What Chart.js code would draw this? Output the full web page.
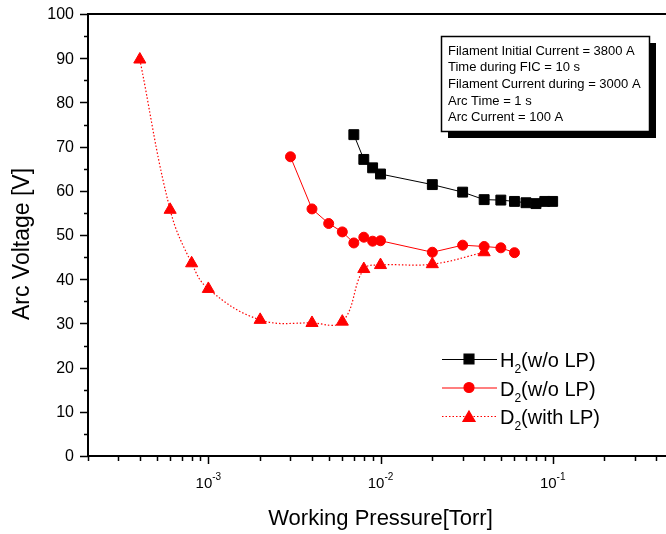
<!DOCTYPE html>
<html>
<head>
<meta charset="utf-8">
<script src="https://cdn.jsdelivr.net/npm/chart.js@4/dist/chart.umd.min.js"></script>
<style>
    html, body { margin: 0; padding: 0; background: #fff; overflow: hidden; }
    #wrap { width: 666px; height: 534px; overflow: hidden; }
</style>
</head>
<body>
<div id="wrap"><canvas id="arcChart" width="690" height="534"></canvas></div>
<script>
// H2 without LP
const h2Pressure = [0.007, 0.008, 0.009, 0.01, 0.02, 0.03, 0.04, 0.05, 0.06, 0.07, 0.08, 0.09, 0.1];
const h2Voltage = [72.7, 67.1, 65.2, 63.8, 61.4, 59.7, 58.0, 57.9, 57.6, 57.3, 57.1, 57.6, 57.6];

// D2 without LP
const d2Pressure = [0.003, 0.004, 0.005, 0.006, 0.007, 0.008, 0.009, 0.01, 0.02, 0.03, 0.04, 0.05, 0.06];
const d2Voltage = [67.7, 55.9, 52.6, 50.7, 48.2, 49.5, 48.6, 48.7, 46.1, 47.7, 47.4, 47.1, 46.0];

// D2 with LP
const d2LpPressure = [0.0004, 0.0006, 0.0008, 0.001, 0.002, 0.004, 0.006, 0.008, 0.01, 0.02, 0.04];
const d2LpVoltage = [89.7, 55.7, 43.6, 37.8, 30.8, 30.1, 30.4, 42.3, 43.2, 43.4, 46.1];

// Axis ticks
const yMajorTicks = [0, 10, 20, 30, 40, 50, 60, 70, 80, 90, 100];
const yMinorTicks = [5, 15, 25, 35, 45, 55, 65, 75, 85, 95];
const xMajorTicks = [1e-3, 1e-2, 1e-1];
const xMajorExp = ['-3', '-2', '-1'];
const xMinorTicks = [
    2e-4, 3e-4, 4e-4, 5e-4, 6e-4, 7e-4, 8e-4, 9e-4,
    2e-3, 3e-3, 4e-3, 5e-3, 6e-3, 7e-3, 8e-3, 9e-3,
    2e-2, 3e-2, 4e-2, 5e-2, 6e-2, 7e-2, 8e-2, 9e-2,
    2e-1, 3e-1, 4e-1, 5e-1
];

// Info box text
const infoLines = [
    'Filament Initial Current = 3800 A',
    'Time during FIC = 10 s',
    'Filament Current during = 3000 A',
    'Arc Time = 1 s',
    'Arc Current = 100 A'
];

// Legend entries
const legendItems = [
    { main: 'H', sub: '2', rest: '(w/o LP)', color: '#000000', style: 'rect', radius: 7, dash: [] },
    { main: 'D', sub: '2', rest: '(w/o LP)', color: '#ff0000', style: 'circle', radius: 5, dash: [] },
    { main: 'D', sub: '2', rest: '(with LP)', color: '#ff0000', style: 'triangle', radius: 7, dash: [1.5, 2] }
];

const FONT = '"Liberation Sans", Arial, Helvetica, sans-serif';

function toPoints(xs, ys) {
    return xs.map((x, i) => ({ x: x, y: ys[i] }));
}

// Draw frame, ticks, labels, titles, info box and legend
const decorPlugin = {
    id: 'decor',
    afterDraw(chart) {
        const ctx = chart.ctx;
        const area = chart.chartArea;
        const xs = chart.scales.x;
        const ys = chart.scales.y;

        ctx.save();
        ctx.strokeStyle = '#000';
        ctx.fillStyle = '#000';

        // top and right frame
        ctx.lineWidth = 2;
        ctx.beginPath();
        ctx.moveTo(area.left, area.top);
        ctx.lineTo(area.right, area.top);
        ctx.lineTo(area.right, area.bottom);
        ctx.stroke();

        // y ticks
        ctx.lineWidth = 1.5;
        ctx.beginPath();
        yMajorTicks.forEach(v => {
            const py = Math.round(ys.getPixelForValue(v)) + 0.5;
            ctx.moveTo(area.left - 8, py);
            ctx.lineTo(area.left, py);
        });
        yMinorTicks.forEach(v => {
            const py = Math.round(ys.getPixelForValue(v)) + 0.5;
            ctx.moveTo(area.left - 4, py);
            ctx.lineTo(area.left, py);
        });
        // x ticks
        xMajorTicks.forEach(v => {
            const px = Math.round(xs.getPixelForValue(v)) + 0.5;
            ctx.moveTo(px, area.bottom);
            ctx.lineTo(px, area.bottom + 8);
        });
        xMinorTicks.forEach(v => {
            const px = Math.round(xs.getPixelForValue(v)) + 0.5;
            ctx.moveTo(px, area.bottom);
            ctx.lineTo(px, area.bottom + 5);
        });
        ctx.stroke();

        // y tick labels
        ctx.font = '16px ' + FONT;
        ctx.textAlign = 'right';
        ctx.textBaseline = 'middle';
        yMajorTicks.forEach(v => {
            ctx.fillText(String(v), area.left - 14, ys.getPixelForValue(v) + 1);
        });

        // x tick labels with superscript exponent
        xMajorTicks.forEach((v, i) => {
            const px = xs.getPixelForValue(v);
            ctx.font = '15px ' + FONT;
            const baseW = ctx.measureText('10').width;
            ctx.font = '10px ' + FONT;
            const expW = ctx.measureText(xMajorExp[i]).width;
            const start = px - (baseW + expW) / 2;
            ctx.textAlign = 'left';
            ctx.textBaseline = 'alphabetic';
            ctx.font = '15px ' + FONT;
            ctx.fillText('10', start, area.bottom + 32);
            ctx.font = '10px ' + FONT;
            ctx.fillText(xMajorExp[i], start + baseW, area.bottom + 24);
        });

        // axis titles
        ctx.font = '22px ' + FONT;
        ctx.textAlign = 'center';
        ctx.textBaseline = 'alphabetic';
        ctx.fillText('Working Pressure[Torr]', xs.getPixelForValue(1e-2), 525);

        ctx.save();
        ctx.translate(29, 244);
        ctx.rotate(-Math.PI / 2);
        ctx.font = '23px ' + FONT;
        ctx.fillText('Arc Voltage [V]', 0, 0);
        ctx.restore();

        // info box with shadow
        const bx = 441, by = 36, bw = 208, bh = 95;
        ctx.fillStyle = '#000';
        ctx.fillRect(bx + 7, by + 7, bw, bh);
        ctx.fillStyle = '#fff';
        ctx.fillRect(bx, by, bw, bh);
        ctx.lineWidth = 1.5;
        ctx.strokeRect(bx + 0.5, by + 0.5, bw, bh);
        ctx.fillStyle = '#000';
        ctx.font = '13px ' + FONT;
        ctx.textAlign = 'left';
        ctx.textBaseline = 'middle';
        infoLines.forEach((line, i) => {
            ctx.fillText(line, bx + 7, by + 15 + i * 16.7);
        });

        // legend
        legendItems.forEach((item, i) => {
            const ly = 359 + i * 28.5;
            ctx.strokeStyle = item.color;
            ctx.fillStyle = item.color;
            ctx.lineWidth = 1.2;
            ctx.setLineDash(item.dash);
            ctx.beginPath();
            ctx.moveTo(442, ly + 0.5);
            ctx.lineTo(497, ly + 0.5);
            ctx.stroke();
            ctx.setLineDash([]);
            Chart.helpers.drawPoint(ctx, {
                pointStyle: item.style,
                radius: item.radius,
                rotation: 0,
                borderWidth: 1
            }, 469, ly + (item.style === 'triangle' ? 2 : 0));

            ctx.fillStyle = '#000';
            ctx.textAlign = 'left';
            ctx.textBaseline = 'alphabetic';
            ctx.font = '20px ' + FONT;
            const mainW = ctx.measureText(item.main).width;
            ctx.fillText(item.main, 500, ly + 8);
            ctx.font = '12px ' + FONT;
            const subW = ctx.measureText(item.sub).width;
            ctx.fillText(item.sub, 500 + mainW, ly + 14);
            ctx.font = '20px ' + FONT;
            ctx.fillText(item.rest, 500 + mainW + subW, ly + 8);
        });

        ctx.restore();
    }
};

const ctx = document.getElementById('arcChart').getContext('2d');

new Chart(ctx, {
    type: 'scatter',
    data: {
        datasets: [
            {
                label: 'D2(with LP)',
                data: toPoints(d2LpPressure, d2LpVoltage),
                showLine: true,
                borderColor: '#ff0000',
                backgroundColor: '#ff0000',
                borderWidth: 1.2,
                borderDash: [1.5, 2],
                tension: 0.4,
                pointStyle: 'triangle',
                pointRadius: 7,
                pointBorderWidth: 1,
                order: 0
            },
            {
                label: 'D2(w/o LP)',
                data: toPoints(d2Pressure, d2Voltage),
                showLine: true,
                borderColor: '#ff0000',
                backgroundColor: '#ff0000',
                borderWidth: 1,
                pointStyle: 'circle',
                pointRadius: 5,
                pointBorderWidth: 1,
                order: 1
            },
            {
                label: 'H2(w/o LP)',
                data: toPoints(h2Pressure, h2Voltage),
                showLine: true,
                borderColor: '#000000',
                backgroundColor: '#000000',
                borderWidth: 1,
                pointStyle: 'rect',
                pointRadius: 7,
                pointBorderWidth: 1,
                order: 2
            }
        ]
    },
    options: {
        responsive: false,
        animation: false,
        devicePixelRatio: 1,
        layout: {
            padding: { left: 88, top: 14, right: 17, bottom: 78 }
        },
        plugins: {
            legend: { display: false },
            tooltip: { enabled: false }
        },
        scales: {
            x: {
                type: 'logarithmic',
                min: 2e-4,
                max: 0.5,
                ticks: { display: false },
                grid: { display: false, drawTicks: false },
                border: { display: true, color: '#000', width: 2 }
            },
            y: {
                min: 0,
                max: 100,
                ticks: { display: false },
                grid: { display: false, drawTicks: false },
                border: { display: true, color: '#000', width: 2 }
            }
        }
    },
    plugins: [decorPlugin]
});
</script>
</body>
</html>
